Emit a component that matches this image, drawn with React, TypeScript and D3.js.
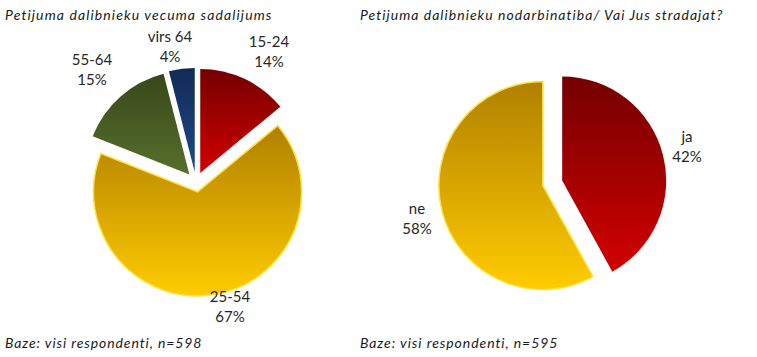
import React from "react";
import * as d3 from "d3";

const ageCategories = ["15-24", "25-54", "55-64", "virs 64"];
const ageValues = [14, 67, 15, 4];
const workCategories = ["ja", "ne"];
const workValues = [42, 58];

const titles = [
  "Petijuma dalibnieku vecuma sadalijums",
  "Petijuma dalibnieku nodarbinatiba/ Vai Jus stradajat?",
];
const footers = ["Baze: visi respondenti, n=598", "Baze: visi respondenti, n=595"];

const palettes: Record<string, [string, string, string]> = {
  red: ["#740000", "#d20000", "none"],
  yellow: ["#b08000", "#ffcc00", "#ffe040"],
  green: ["#38471a", "#57702c", "none"],
  blue: ["#132a55", "#20488a", "none"],
};

const ageColors = ["red", "yellow", "green", "blue"];
const workColors = ["red", "yellow"];

type PieProps = {
  id: string;
  cats: string[];
  vals: number[];
  colors: string[];
  cx: number;
  cy: number;
  r: number;
  explode: number;
  labelPos: [number, number][];
};

function Pie({ id, cats, vals, colors, cx, cy, r, explode, labelPos }: PieProps) {
  const pie = d3.pie<number>().sort(null).value((d) => d);
  const arcs = pie(vals);
  const arc = d3.arc<d3.PieArcDatum<number>>().innerRadius(0).outerRadius(r);
  return (
    <g>
      <defs>
        {arcs.map((a, i) => {
          const p = palettes[colors[i]];
          return (
            <linearGradient key={i} id={`${id}-g${i}`} x1="0" y1="0" x2="0" y2="1">
              <stop offset="0" stopColor={p[0]} />
              <stop offset="1" stopColor={p[1]} />
            </linearGradient>
          );
        })}
      </defs>
      {arcs.map((a, i) => {
        const mid = (a.startAngle + a.endAngle) / 2;
        const dx = Math.sin(mid) * explode;
        const dy = -Math.cos(mid) * explode;
        const p = palettes[colors[i]];
        return (
          <path
            key={i}
            d={arc(a) || ""}
            transform={`translate(${cx + dx},${cy + dy})`}
            fill={`url(#${id}-g${i})`}
            stroke={p[2]}
            strokeWidth={p[2] === "none" ? 0 : 1.5}
          />
        );
      })}
      {arcs.map((a, i) => (
        <text
          key={`t${i}`}
          x={labelPos[i][0]}
          y={labelPos[i][1]}
          textAnchor="middle"
          fontFamily="Lato, 'Open Sans', sans-serif"
          fontSize={15}
          fill="#262626"
        >
          <tspan x={labelPos[i][0]} dy="0">{cats[i]}</tspan>
          <tspan x={labelPos[i][0]} dy="20">{`${vals[i]}%`}</tspan>
        </text>
      ))}
    </g>
  );
}

export default function App() {
  const textStyle = {
    fontFamily: "Lato, 'Open Sans', sans-serif",
    fontStyle: "italic" as const,
    fontSize: 14,
    fill: "#1a1a1a",
    letterSpacing: "0.6px",
  };
  return (
    <svg width={757} height={357} style={{ position: "absolute", left: 0, top: 0, background: "#fff" }}>
      <rect width={757} height={357} fill="#fff" />
      <text x={5} y={20} {...textStyle} textLength={267}>{titles[0]}</text>
      <text x={360} y={20} {...textStyle} textLength={363}>{titles[1]}</text>
      <text x={5} y={348} {...textStyle} textLength={197}>{footers[0]}</text>
      <text x={360} y={348} {...textStyle} textLength={198}>{footers[1]}</text>
      <Pie
        id="age"
        cats={ageCategories}
        vals={ageValues}
        colors={ageColors}
        cx={196}
        cy={182}
        r={104}
        explode={10}
        labelPos={[
          [269, 47],
          [230, 302],
          [92, 65],
          [170, 42],
        ]}
      />
      <Pie
        id="work"
        cats={workCategories}
        vals={workValues}
        colors={workColors}
        cx={552.5}
        cy={183}
        r={104}
        explode={10}
        labelPos={[
          [687, 142],
          [417, 214],
        ]}
      />
    </svg>
  );
}
